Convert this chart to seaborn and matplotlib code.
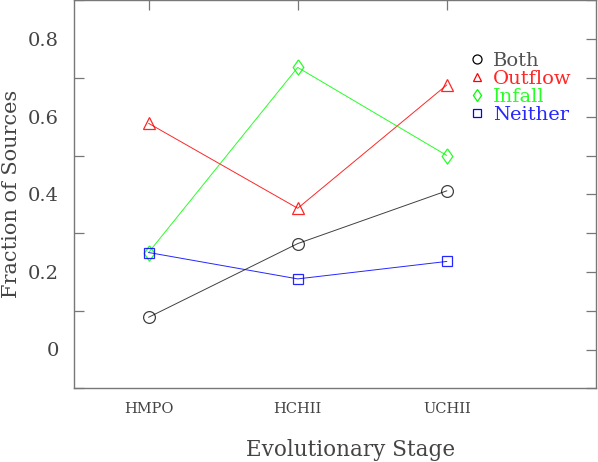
import numpy as np
import pandas as pd
import matplotlib
matplotlib.use('Agg')
import matplotlib.pyplot as plt
import seaborn as sns
from matplotlib.lines import Line2D
from matplotlib.ticker import MultipleLocator

# data
stages = ['HMPO', 'HCHII', 'UCHII']
stage_pos = [1, 2, 3]
both = [0.083, 0.273, 0.409]
outflow = [0.583, 0.364, 0.682]
infall = [0.25, 0.727, 0.50]
neither = [0.25, 0.182, 0.227]

series = ['Both', 'Outflow', 'Infall', 'Neither']
colors = ['#000000', '#ff0000', '#00ff00', '#0000ff']
# wide diamond like the original (plain 'd' is too thin)
diamond = [(0, 1), (0.7, 0), (0, -1), (-0.7, 0), (0, 1)]
markers = ['o', '^', diamond, 's']
msizes = [8.5, 8, 11, 6.5]
leg_sizes = [6.5, 6, 8.5, 5.5]

sns.set_style('white')
plt.rcParams['font.family'] = ['DejaVu Serif', 'DejaVu Sans']
txt = '#444444'

fig = plt.figure(figsize=(5.98, 4.62), dpi=100)
ax = fig.add_axes([74 / 598, (462 - 388.3) / 462, (596 - 74) / 598, 388 / 462])

for name, vals, c, m, ms in zip(series, [both, outflow, infall, neither], colors, markers, msizes):
    sns.lineplot(x=stage_pos, y=vals, ax=ax, color=c, linewidth=0.7, marker=m,
                 markersize=ms, markerfacecolor='none', markeredgecolor=c,
                 markeredgewidth=0.9, alpha=0.75 if c == '#000000' else 0.85)

ax.set_xlim(0.5, 4.0)
ax.set_ylim(-0.1, 0.9)
ax.set_xticks(stage_pos)
ax.set_xticklabels(stages)
ax.set_yticks([0, 0.2, 0.4, 0.6, 0.8])
ax.set_yticklabels(['0', '0.2', '0.4', '0.6', '0.8'])
ax.yaxis.set_minor_locator(MultipleLocator(0.1))

for s in ax.spines.values():
    s.set_color('#777777')
    s.set_linewidth(1.0)
    s.set_visible(True)

ax.tick_params(axis='both', which='both', direction='in', top=True, right=True,
               length=7, width=0.9, color='#777777', labelcolor=txt)
ax.tick_params(axis='y', which='major', labelsize=14, pad=11)
ax.tick_params(axis='x', which='major', labelsize=10.5, pad=10)
ax.tick_params(axis='y', which='minor', left=True, right=True)

ax.set_xlabel('Evolutionary Stage', fontsize=15.5, color=txt, va='center')
ax.xaxis.set_label_coords(0.53, (388.3 - 450) / 388)
ax.set_ylabel('Fraction of Sources', fontsize=15, color=txt, va='center')
ax.yaxis.set_label_coords((12 - 74) / 522, 0.5)

handles = [Line2D([], [], linestyle='none', marker=m, markersize=s, markerfacecolor='none',
                  markeredgecolor=c, markeredgewidth=0.9)
           for m, c, s in zip(markers, colors, leg_sizes)]
leg = ax.legend(handles, series, loc='upper left', bbox_to_anchor=(459 / 598, 1 - 42 / 462),
                bbox_transform=fig.transFigure, frameon=False, fontsize=14,
                handlelength=0.8, handletextpad=0.45, labelspacing=0.0, borderpad=0)
for t, c in zip(leg.get_texts(), colors):
    t.set_color('#333333' if c == '#000000' else c)
    t.set_alpha(0.85)

fig.savefig('out.png', dpi=100)
